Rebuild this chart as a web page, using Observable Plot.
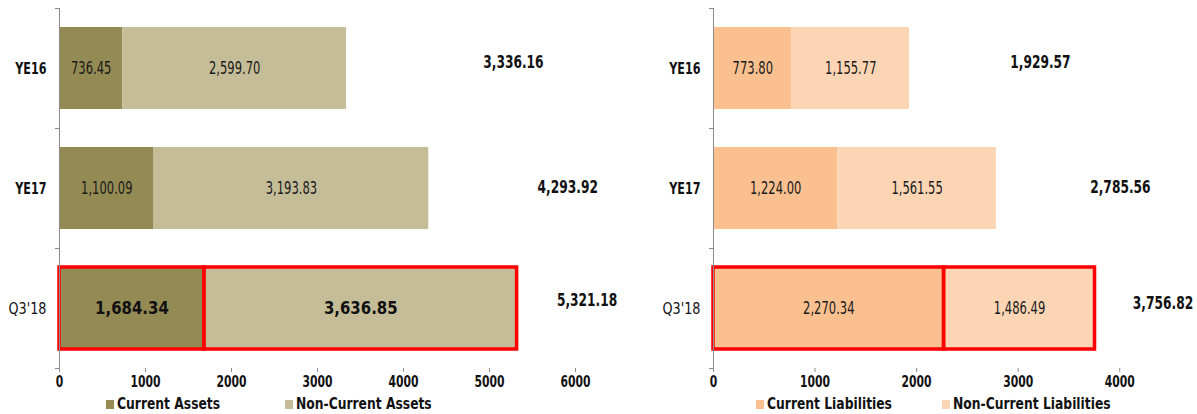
<!DOCTYPE html>
<html>
<head>
<meta charset="utf-8">
<script src="https://cdn.jsdelivr.net/npm/d3@7"></script>
<script src="https://cdn.jsdelivr.net/npm/@observablehq/plot@0.6"></script>
<style>
  html, body { margin: 0; padding: 0; background: #fff; }
  #wrap { position: relative; width: 1197px; height: 414px; overflow: hidden; font-family: 'DejaVu Sans', sans-serif; }
  .panel { position: absolute; top: 0; }
  .lg-sw { position: absolute; top: 400px; width: 8px; height: 9px; }
  .lg-tx { position: absolute; top: 394px; font-weight: bold; font-size: 16px; line-height: 20px; color: #111;
           white-space: nowrap; transform: scaleX(0.77); transform-origin: 0 50%; }
</style>
</head>
<body>
<div id="wrap">
  <div id="left" class="panel" style="left:0"></div>
  <div id="right" class="panel" style="left:650px"></div>
</div>
<script>
// ---- data ----
const periods = ["YE16", "YE17", "Q3'18"];
const currentAssets = [736.45, 1100.09, 1684.34];
const nonCurrentAssets = [2599.70, 3193.83, 3636.85];
const totalAssets = [3336.16, 4293.92, 5321.18];
const currentLiabilities = [773.80, 1224.00, 2270.34];
const nonCurrentLiabilities = [1155.77, 1561.55, 1486.49];
const totalLiabilities = [1929.57, 2785.56, 3756.82];
const assetTicks = [0, 1000, 2000, 3000, 4000, 5000, 6000];
const liabilityTicks = [0, 1000, 2000, 3000, 4000];
const assetSeries = ["Current Assets", "Non-Current Assets"];
const liabilitySeries = ["Current Liabilities", "Non-Current Liabilities"];
const assetColors = ["#948A54", "#C4BD97"];
const liabilityColors = ["#FAC090", "#FCD5B5"];

const fmt = d3.format(",.2f");
const FONT = "'DejaVu Sans', sans-serif";

// horizontally condense every text around its anchor point
function squeeze(svg) {
  svg.querySelectorAll("text").forEach(t => {
    const g = t.closest("g[class*='sx']");
    let s = 0.72;
    if (g) {
      const m = /sx(\d+)/.exec(g.getAttribute("class"));
      if (m) s = +m[1] / 100;
    }
    const tr = t.getAttribute("transform");
    if (tr) t.setAttribute("transform", tr + ` scale(${s},1)`);
    else {
      const x = +(t.getAttribute("x") || 0);
      t.setAttribute("transform", `translate(${x},0) scale(${s},1) translate(${-x},0)`);
    }
  });
}

function panel(opts) {
  const {width, marginLeft, marginRight, domain, ticks, cur, non, tot, series, colors, boldHighlight, totalDx, totalDy} = opts;
  const rows = periods.flatMap((p, i) => [
    {period: p, series: series[0], value: cur[i]},
    {period: p, series: series[1], value: non[i]}
  ]);
  const H = 392, mt = 8, mb = H - 368;
  const pxPerUnit = (width - marginLeft - marginRight) / (domain[1] - domain[0]);
  const tickLen = 4 / pxPerUnit;
  const half = (368 - mt) / periods.length / 2;
  const hl = d => d.period === "Q3'18";
  const marks = [
    Plot.barX(rows, {x: "value", y: "period", fill: "series"}),
    Plot.barX(rows, {x: "value", y: "period", filter: hl, fill: "none", stroke: "#FF0000", strokeWidth: 3.5}),
    Plot.text(rows, Plot.stackX({x: "value", y: "period", text: d => fmt(d.value), filter: d => !hl(d) || !boldHighlight,
      fill: "#1a1a1a", fontSize: 17, className: "sx68"})),
  ];
  if (boldHighlight) {
    marks.push(Plot.text(rows, Plot.stackX({x: "value", y: "period", text: d => fmt(d.value), filter: hl,
      fill: "#111", fontSize: 18, fontWeight: "bold", className: "sx83"})));
  }
  periods.forEach((p, i) => {
    marks.push(Plot.text([p], {y: d => d, x: tot[i], text: () => fmt(tot[i]), dx: totalDx[i], dy: totalDy[i],
      fontSize: 17, fontWeight: "bold", fill: "#111", className: "sx72"}));
  });
  marks.push(
    Plot.ruleX([0], {stroke: "#8c8c8c", strokeWidth: 1}),
    Plot.ruleY(periods, {y: d => d, x1: -tickLen, x2: 0, dy: -half, stroke: "#8c8c8c"}),
    Plot.ruleY([periods[periods.length - 1]], {y: d => d, x1: -tickLen, x2: 0, dy: half, stroke: "#8c8c8c"}),
    Plot.axisY({ticks: ["YE16", "YE17"], tickSize: 0, tickPadding: 13, fontSize: 16, fontWeight: "bold", fill: "#111", className: "sx70"}),
    Plot.axisY({ticks: ["Q3'18"], tickSize: 0, tickPadding: 13, fontSize: 16, fontWeight: "normal", fill: "#111", className: "sx80"}),
    Plot.axisX({ticks, tickSize: 4, tickPadding: 4, tickFormat: d => String(d), fontSize: 15, fontWeight: "bold", fill: "#111", stroke: "#8c8c8c", className: "sx72"})
  );
  const svg = Plot.plot({
    width, height: H, marginLeft, marginRight, marginTop: mt, marginBottom: mb,
    style: {fontFamily: FONT, background: "transparent", overflow: "visible"},
    x: {domain, label: null, line: true},
    y: {domain: periods, paddingInner: 0.32, paddingOuter: 0.16, label: null},
    color: {domain: series, range: colors},
    marks
  });
  squeeze(svg);
  return svg;
}

const left = panel({
  width: 650, marginLeft: 59, marginRight: 75, domain: [0, 6000], ticks: assetTicks,
  cur: currentAssets, non: nonCurrentAssets, tot: totalAssets,
  series: assetSeries, colors: assetColors, boldHighlight: true,
  totalDx: [167, 139, 70], totalDy: [-6, -1, -8]
});
const right = panel({
  width: 547, marginLeft: 63, marginRight: 27, domain: [0, 4500], ticks: liabilityTicks,
  cur: currentLiabilities, non: nonCurrentLiabilities, tot: totalLiabilities,
  series: liabilitySeries, colors: liabilityColors, boldHighlight: false,
  totalDx: [131, 124, 68], totalDy: [-6, -1, -5]
});
document.getElementById("left").appendChild(left);
document.getElementById("right").appendChild(right);

// legends (HTML, below the SVGs)
function legendItem(swX, label, color) {
  const wrap = document.getElementById("wrap");
  const sw = document.createElement("div");
  sw.className = "lg-sw"; sw.style.left = swX + "px"; sw.style.background = color;
  const tx = document.createElement("div");
  tx.className = "lg-tx"; tx.style.left = (swX + 11) + "px"; tx.textContent = label;
  wrap.appendChild(sw); wrap.appendChild(tx);
}
const legendX = [[106, 285], [756, 942]];
assetSeries.forEach((s, i) => legendItem(legendX[0][i], s, assetColors[i]));
liabilitySeries.forEach((s, i) => legendItem(legendX[1][i], s, liabilityColors[i]));
</script>
</body>
</html>
